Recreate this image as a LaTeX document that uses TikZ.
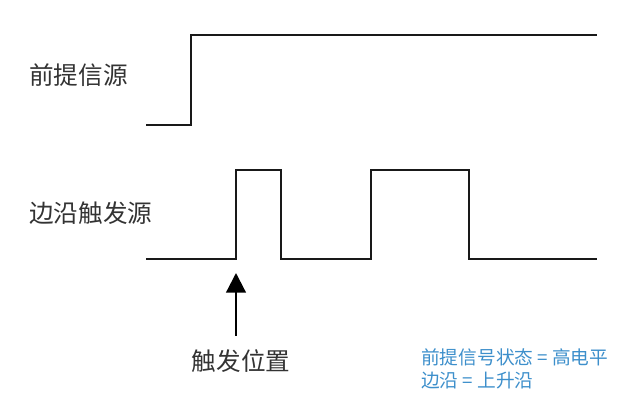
\documentclass[tikz,border=0pt]{standalone}
\usepackage{fontspec}
\setmainfont{Noto Sans CJK SC}
\usepackage{tikz}
\usetikzlibrary{arrows.meta, positioning}
\definecolor{notebl}{HTML}{3D8FCB}

\begin{document}
\begin{tikzpicture}[
    x=0.025cm, y=-0.025cm,
    every node/.style={inner sep=0pt},
    wave/.style={line width=1.6pt, line join=miter, color=black!90},
    label/.style={font=\fontsize{17.5pt}{20pt}\selectfont, color=black!80, anchor=west},
    note/.style={font=\fontsize{13.3pt}{15pt}\selectfont, color=notebl, anchor=west},
    arrow/.style={line width=1.6pt, -{Triangle[length=14pt, width=14pt]}}
]
\useasboundingbox (0,0) rectangle (640,418);

% signal labels
\node[label] (pre) at (29,75) {前提信源};
\node[label] (edge) at (29,213) {边沿触发源};

% waveforms
\draw[wave] (146,125) -- (191,125) -- (191,35) -- (597,35);
\draw[wave] (146,259) -- (236,259) -- (236,170) -- (281,170) -- (281,259)
    -- (371,259) -- (371,170) -- (469,170) -- (469,259) -- (597,259);

% trigger point
\node[label, anchor=center] (trig) at (241,361) {触发位置};
\coordinate (tail) at (236,336);
\coordinate (tip) at (236,273);
\draw[arrow] (tail) -- (tip);

% notes
\node[note] (cond1) at (421,357) {前提信号状态 = 高电平};
\node[note] (cond2) at (421,381) {边沿 = 上升沿};

\end{tikzpicture}
\end{document}
